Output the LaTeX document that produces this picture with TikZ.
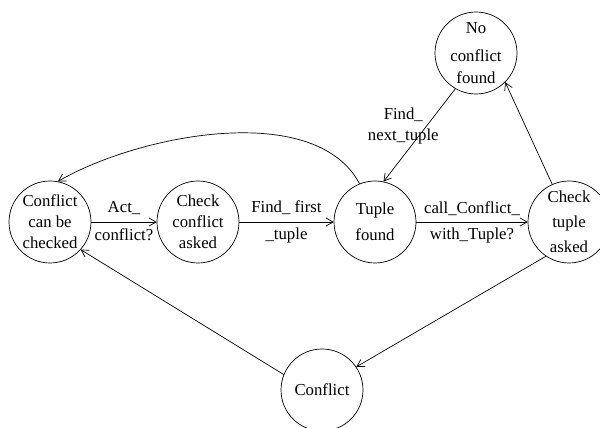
\documentclass[tikz,border=0pt]{standalone}
\usepackage{fontspec}
\setmainfont{Liberation Serif}
\usepackage{tikz}
\usetikzlibrary{arrows.meta,positioning}

\begin{document}
\begin{tikzpicture}[
    state/.style={draw, circle, line width=0.6pt, minimum size=2.46cm, inner sep=0pt, align=center, font=\fontsize{14.3}{18}\selectfont},
    arr/.style={-{Straight Barb[length=6pt,width=7pt]}, line width=0.6pt},
    lbl/.style={font=\fontsize{14.3}{18}\selectfont, inner sep=1pt}
]
\useasboundingbox (0,0) rectangle (18,12.84);

\node[state] (checkable) at (1.5,6.18) {Conflict\\can be\\checked};
\node[state] (confasked) at (5.94,6.18) {Check\\conflict\\asked};
\node[state] (tuple) at (11.25,6.18) {Tuple\\[4pt]found};
\node[state] (tupleasked) at (17.07,6.18) {Check\\[3pt]tuple\\[4pt]asked};
\node[state] (noconflict) at (14.28,11.25) {No\\[6pt]conflict\\found};
\node[state] (conflict) at (9.66,1.14) {Conflict};

\draw[arr] (checkable) -- node[lbl,above=5pt] {Act\_} node[lbl,below=4pt] {conflict?} (confasked);
\draw[arr] (confasked) -- node[lbl,above=5pt] {Find\_ first} node[lbl,below=4pt] {\_tuple} (tuple);
\draw[arr] (tuple) -- node[lbl,above=4pt] {call\_Conflict\_} node[lbl,below=4pt] {with\_Tuple?} (tupleasked);
\draw[arr] (tupleasked.114) -- (noconflict.-45);
\draw[arr] (noconflict.240) -- node[lbl,pos=0.4,xshift=-0.7cm,align=center] {Find\_\\next\_tuple} (tuple.78);
\draw[arr] (tuple.112) to[out=118,in=30,looseness=0.8] (checkable.79);
\draw[arr] (tupleasked.236) -- (conflict.34);
\draw[arr] (conflict.158) -- (checkable.-42);
\end{tikzpicture}
\end{document}
